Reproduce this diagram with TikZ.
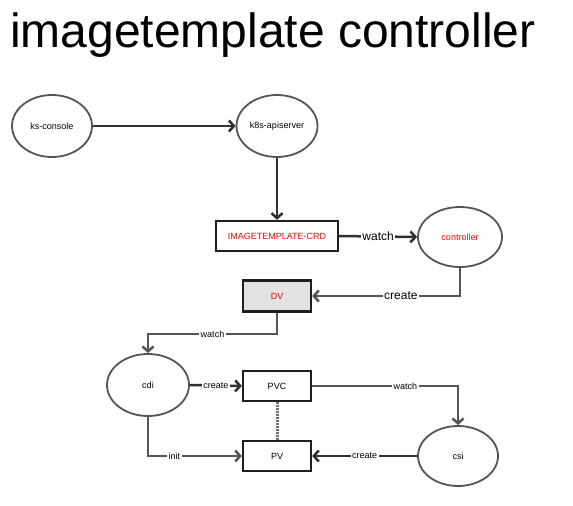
\documentclass[tikz,border=0pt]{standalone}
\usepackage{fontspec}
\setmainfont{Liberation Sans}
\usetikzlibrary{shapes.geometric,arrows.meta}
\definecolor{darkline}{HTML}{303030}
\definecolor{grayline}{HTML}{555555}
\definecolor{ellline}{HTML}{555555}
\definecolor{dvfill}{HTML}{E3E3E3}
\definecolor{dotline}{HTML}{707070}
\tikzset{
  ell/.style={ellipse,draw=ellline,line width=1.8pt,inner sep=0pt,font=\fontsize{9}{11}\selectfont},
  rbox/.style={rectangle,draw=black!88,line width=2.3pt,inner sep=0pt,font=\fontsize{9}{11}\selectfont},
  arr/.style={line width=2.5pt,-{Straight Barb[length=5pt,width=11pt,line width=2.5pt]}},
  darkarr/.style={arr,draw=darkline},
  grayarr/.style={arr,draw=grayline},
  biglab/.style={fill=white,inner sep=1.5pt,font=\fontsize{12}{14}\selectfont,text=black},
  smalllab/.style={fill=white,inner sep=1.5pt,font=\fontsize{9}{11}\selectfont,text=black},
}
\begin{document}
\begin{tikzpicture}[x=1pt,y=-1pt]
\useasboundingbox[fill=white] (0,0) rectangle (573,506);
\node[anchor=base west,inner sep=0pt,font=\fontsize{48}{56}\selectfont] (title) at (10,47) {imagetemplate controller};

\node[ell,minimum width=80,minimum height=62] (ks) at (52,126) {ks-console};
\node[ell,minimum width=81,minimum height=62] (api) at (277,126) {k8s-apiserver};
\node[rbox,minimum width=122,minimum height=30,text=red] (crd) at (277,236) {IMAGETEMPLATE-CRD};
\node[ell,minimum width=84,minimum height=60,text=red] (ctrl) at (460,237) {controller};
\node[rbox,minimum width=68,minimum height=31,fill=dvfill,text=red] (dv) at (277,296) {DV};
\node[ell,minimum width=82,minimum height=62] (cdi) at (148,385) {cdi};
\node[rbox,minimum width=68,minimum height=30] (pvc) at (277,386) {PVC};
\node[rbox,minimum width=68,minimum height=30] (pv) at (277,456) {PV};
\node[ell,minimum width=80,minimum height=60] (csi) at (458,456) {csi};

\coordinate (w1) at (277,334);

\draw[darkarr] (ks.east) -- (api.west);
\draw[darkarr] (api.south) -- (crd.north);
\draw[darkarr] (crd.east) -- node[biglab]{watch} (ctrl.west);
\draw[grayarr] (ctrl.south) |- node[biglab,pos=0.7]{create} (dv.east);
\draw[grayarr] (dv.south) -- (w1) -| node[smalllab,pos=0.25]{watch} (cdi.north);
\draw[darkarr] (cdi.east) -- node[smalllab]{create} (pvc.west);
\draw[grayarr] (pvc.east) -| node[smalllab,pos=0.32]{watch} (csi.north);
\draw[grayarr] (cdi.south) |- node[smalllab,pos=0.64]{init} (pv.west);
\draw[darkarr] (csi.west) -- node[smalllab]{create} (pv.east);
\draw[draw=dotline,line width=3pt,dash pattern=on 2pt off 1pt] (pvc.south) -- (pv.north);
\end{tikzpicture}
\end{document}
